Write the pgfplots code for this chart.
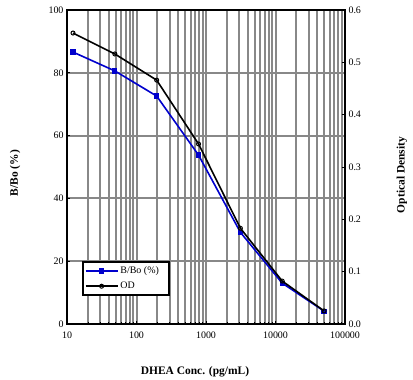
\documentclass[border=0pt]{standalone}
\usepackage{pgfplots}
\pgfplotsset{compat=1.18}
\usepackage{fontspec}
\setmainfont{Liberation Serif}
\definecolor{gridgray}{RGB}{136,136,136}
\definecolor{bblue}{RGB}{0,0,204}
\begin{document}
\begin{tikzpicture}
\useasboundingbox (0,0) rectangle (413bp,380bp);
\begin{axis}[at={(67bp,56bp)}, anchor=south west, scale only axis,
  width=278bp, height=314bp,
  xmode=log, log basis x=10, xmin=10, xmax=100000,
  ymin=0, ymax=100, ytick={0,20,40,60,80,100},
  xtick={10,100,1000,10000,100000},
  xticklabels={10,100,1000,10000,100000},
  minor xtick={20,30,40,50,60,70,80,90,200,300,400,500,600,700,800,900,2000,3000,4000,5000,6000,7000,8000,9000,20000,30000,40000,50000,60000,70000,80000,90000},
  grid=both,
  major grid style={gridgray, line width=2bp},
  minor grid style={gridgray, line width=2bp},
  axis line style={line width=1.8bp},
  tick pos=left, tick align=inside,
  major tick length=3bp, minor tick length=2bp,
  tick style={black, line width=0.8bp},
  ticklabel style={font=\fontsize{10}{11}\selectfont},
  xticklabel style={yshift=-4bp},
  /pgf/number format/assume math mode=true,
  clip=false]
\addplot[bblue, line width=1.6bp, mark=square*, mark size=1.8bp, mark options={fill=bblue}]
coordinates {(12.2,86.6) (48.8,80.6) (195,72.6) (781,53.8) (3125,29.2) (12500,13.0) (50000,4.1)};
\end{axis}
\begin{axis}[at={(67bp,56bp)}, anchor=south west, scale only axis,
  width=278bp, height=314bp,
  xmode=log, log basis x=10, xmin=10, xmax=100000,
  hide x axis,
  axis y line*=right,
  ymin=0, ymax=0.6, ytick={0,0.1,0.2,0.3,0.4,0.5,0.6},
  yticklabel style={/pgf/number format/.cd, fixed, fixed zerofill, precision=1},
  y axis line style={line width=1.8bp},
  tick align=inside, major tick length=3bp,
  tick style={black, line width=0.8bp},
  ticklabel style={font=\fontsize{10}{11}\selectfont},
  /pgf/number format/assume math mode=true,
  legend image code/.code={\draw[#1] (0bp,0bp) -- (16bp,0bp) -- (32bp,0bp); \draw[#1, only marks] plot coordinates {(16bp,0bp)};},
  legend style={at={(axis description cs:0.054,0.089)}, anchor=south west,
    draw=black, line width=1.6bp, fill=white,
    font=\fontsize{10}{11}\selectfont, inner xsep=2bp, inner ysep=3bp,
    row sep=3bp, cells={anchor=west}},
  legend cell align=left]
\addlegendimage{bblue, line width=1.6bp, mark=square*, mark size=1.8bp, mark options={fill=bblue}}
\addlegendentry{B/Bo (\%)\hspace*{6bp}}
\addplot[black, line width=1.6bp, mark=o, mark size=2bp, mark options={fill=white, line width=1bp}]
coordinates {(12.2,0.556) (48.8,0.516) (195,0.466) (781,0.344) (3125,0.183) (12500,0.082) (50000,0.025)};
\addlegendentry{OD}
\end{axis}
\node[font=\bfseries\fontsize{11.5}{13}\selectfont] at (195bp,8bp) {DHEA Conc. (pg/mL)};
\node[font=\bfseries\fontsize{11.5}{13}\selectfont, rotate=90] at (15bp,207bp) {B/Bo (\%)};
\node[font=\bfseries\fontsize{11.5}{13}\selectfont, rotate=90] at (402bp,205bp) {Optical Density};
\end{tikzpicture}
\end{document}
